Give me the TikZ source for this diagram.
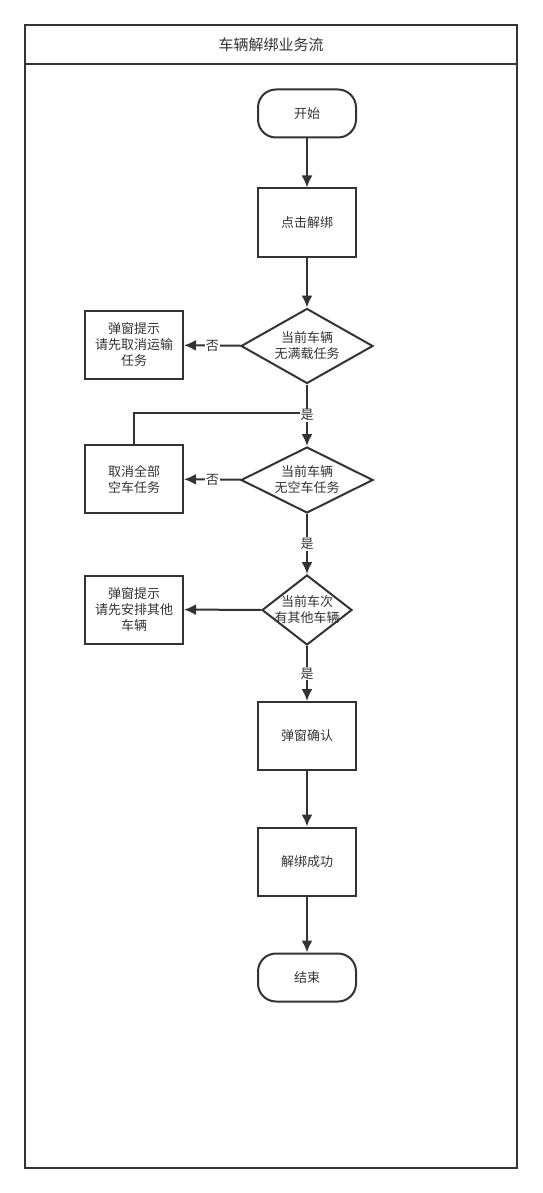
\documentclass[tikz,border=0pt]{standalone}
\usepackage{fontspec}
\setmainfont{Noto Sans CJK SC}
\usetikzlibrary{shapes.geometric,arrows.meta}
\definecolor{linegray}{HTML}{333333}
\tikzset{>={Latex[length=12pt,width=11pt]}}
\tikzset{
    every node/.style={font=\fontsize{13}{16}\selectfont, text=linegray, align=center},
    process/.style={rectangle, draw=linegray, line width=2pt, minimum width=98pt, minimum height=68pt},
    terminal/.style={rectangle, rounded corners=18pt, draw=linegray, line width=2pt, minimum width=98pt, minimum height=48pt},
    decision/.style={diamond, draw=linegray, line width=2pt, inner sep=0pt},
    flow/.style={draw=linegray, line width=2pt},
    tag/.style={fill=white, inner sep=1pt}
}

\begin{document}
\begin{tikzpicture}[x=1pt, y=-1pt]
    \useasboundingbox (0,0) rectangle (542,1193);

    % swimlane
    \draw[flow] (25,25) rectangle (517,1168);
    \draw[flow] (25,64) -- (517,64);
    \node[font=\fontsize{15}{18}\selectfont] at (271,45) (title) {车辆解绑业务流};

    \node[terminal] at (307,113.5) (start) {开始};
    \node[process] at (307,222.5) (click) {点击解绑};

    \node[decision, minimum width=132pt, minimum height=75pt] at (307,346) (full) {};
    \node at (full) (fulltxt) {当前车辆\\无满载任务};
    \node[process] at (134,345) (warn1) {弹窗提示\\请先取消运输\\任务};

    \node[decision, minimum width=132pt, minimum height=66pt] at (307,480) (empty) {};
    \node at (empty) (emptytxt) {当前车辆\\无空车任务};
    \node[process] at (134,479) (cancel) {取消全部\\空车任务};

    \node[decision, minimum width=90pt, minimum height=70pt] at (307,610) (other) {};
    \node at (other) (othertxt) {当前车次\\有其他车辆};
    \node[process] at (134,609.5) (warn2) {弹窗提示\\请先安排其他\\车辆};

    \node[process] at (307,736) (confirm) {弹窗确认};
    \node[process] at (307,861.5) (done) {解绑成功};
    \node[terminal] at (307,977.5) (stop) {结束};

    \coordinate (join) at (307,413);

    \draw[flow, ->] (start) -- (click);
    \draw[flow, ->] (click) -- (full);
    \draw[flow, ->] (full) -- node[tag] (no1) {否} (warn1);
    \draw[flow] (cancel.north) |- (join);
    \draw[flow, ->] (full) -- node[tag] (yes1) {是} (empty);
    \draw[flow, ->] (empty) -- node[tag] (no2) {否} (cancel);
    \draw[flow, ->] (empty) -- node[tag] (yes2) {是} (other);
    \draw[flow, ->] (other) -- (warn2);
    \draw[flow, ->] (other) -- node[tag] (yes3) {是} (confirm);
    \draw[flow, ->] (confirm) -- (done);
    \draw[flow, ->] (done) -- (stop);

\end{tikzpicture}
\end{document}
